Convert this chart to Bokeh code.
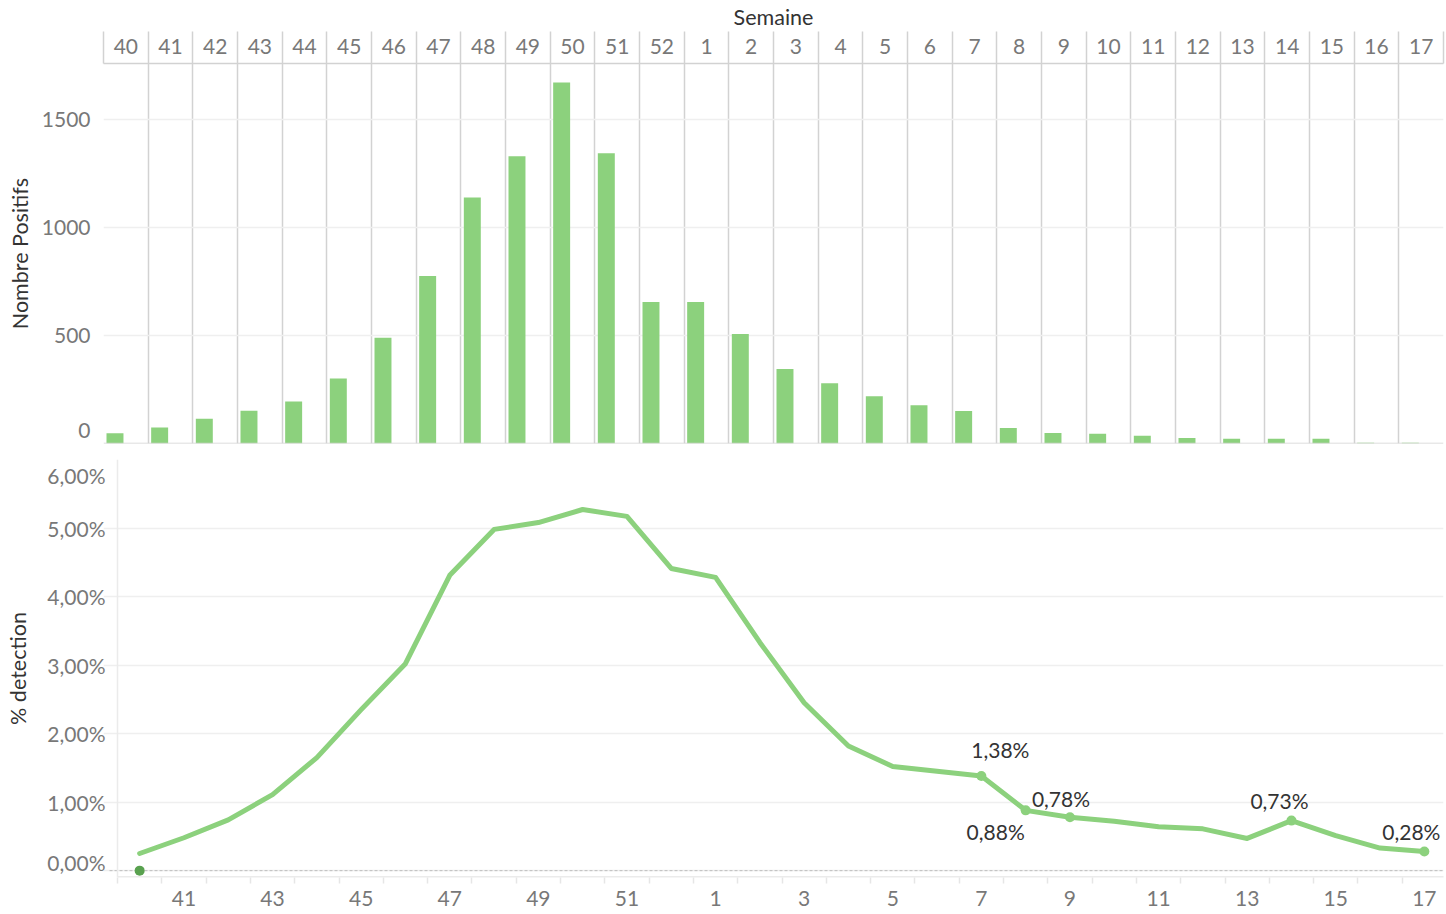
from bokeh.plotting import figure
from bokeh.layouts import column
from bokeh.models import Range1d, FixedTicker, Span, ColumnDataSource
from bokeh.transform import dodge
from bokeh.embed import file_html
from bokeh.resources import INLINE
from bokeh.core.properties import value

# ---------------- data ----------------
weeks = ["40", "41", "42", "43", "44", "45", "46", "47", "48", "49", "50", "51", "52",
         "1", "2", "3", "4", "5", "6", "7", "8", "9", "10", "11", "12", "13", "14",
         "15", "16", "17"]
positifs = [47, 74, 115, 152, 194, 300, 489, 775, 1138, 1328, 1669, 1342, 654,
            654, 506, 344, 279, 219, 177, 150, 72, 49, 45, 36, 26, 22, 22,
            22, 3, 3]
detection = [0.25, 0.48, 0.74, 1.11, 1.65, 2.35, 3.02, 4.31, 4.98, 5.08, 5.27, 5.17, 4.41,
             4.28, 3.33, 2.45, 1.82, 1.52, 1.45, 1.38, 0.88, 0.78, 0.72, 0.64, 0.61, 0.47, 0.73,
             0.51, 0.33, 0.28]
labelled_weeks = ["7", "8", "9", "14", "17"]
dark_point_weeks = ["40"]
dark_point_values = [0.0]
top_ticks = [0, 500, 1000, 1500]
bottom_ticks = [0, 1, 2, 3, 4, 5, 6]

# ---------------- style ----------------
FONT = "Lato"
GREEN = "#8cd17d"
DARK_GREEN = "#59a14f"
TICK_GREY = "#787878"
DIV_GREY = "#d2d2d2"
GRID = "#efefef"
BORDER = "#ebebeb"
TITLE = "#333333"
TICK_FS = "21px"
TITLE_FS = "21.5px"
LABEL_FS = "21px"
LABEL_OFFSETS = {"7": (19, -27), "8": (-30, 21), "9": (-9, -19), "14": (-12, -20), "17": (-13, -20)}
# edge tick labels are nudged inward (as in the original dashboard)
TOP_LABEL_POS = {0: 60}
BOTTOM_LABEL_POS = {0: 0.12, 6: 5.76}
# bottom panel's plot area starts a little right of the top panel's one
BOT_X_START, BOT_X_END = -0.316, 29.932
ZERO_LINE_START = -0.18

n = len(weeks)
centers = [i + 0.5 for i in range(n)]
bounds = list(range(n + 1))


def pct(v):
    return f"{v:.2f}".replace(".", ",") + "%"


# ---------------- top chart: bars ----------------
top = figure(width=1446, height=451, output_backend="svg", toolbar_location=None,
             x_range=Range1d(0, n), y_range=Range1d(0, 1757),
             x_axis_location="above",
             min_border_left=103, min_border_right=3, min_border_top=62, min_border_bottom=8)
top.outline_line_color = None
top.background_fill_color = "white"
top.border_fill_color = "white"

src_bars = ColumnDataSource(dict(x=centers, top=positifs, week=weeks))
top.vbar(x=dodge("x", -0.243), top="top", width=0.38, bottom=0, source=src_bars,
         fill_color=GREEN, line_color=None)

xa = top.xaxis[0]
xa.ticker = FixedTicker(ticks=centers, minor_ticks=bounds)
xa.major_label_overrides = {c: w for c, w in zip(centers, weeks)}
xa.major_tick_out = 0
xa.major_tick_in = 0
xa.minor_tick_out = 32
xa.minor_tick_in = 0
xa.minor_tick_line_color = DIV_GREY
xa.minor_tick_line_width = 1.5
xa.axis_line_color = DIV_GREY
xa.axis_line_width = 1.5
xa.major_label_text_font = FONT
xa.major_label_text_font_size = TICK_FS
xa.major_label_text_color = TICK_GREY
xa.major_label_standoff = -22
xa.axis_label = "Semaine"
xa.axis_label_text_font = FONT
xa.axis_label_text_font_size = TITLE_FS
xa.axis_label_text_font_style = "normal"
xa.axis_label_text_color = TITLE
xa.axis_label_standoff = 6

ya = top.yaxis[0]
ya_pos = [TOP_LABEL_POS.get(t, t) for t in top_ticks]
ya.ticker = FixedTicker(ticks=ya_pos)
ya.major_label_overrides = {p: str(t) for p, t in zip(ya_pos, top_ticks)}
ya.major_tick_out = 0
ya.major_tick_in = 0
ya.minor_tick_line_color = None
ya.axis_line_color = None
ya.major_label_text_font = FONT
ya.major_label_text_font_size = TICK_FS
ya.major_label_text_color = TICK_GREY
ya.major_label_standoff = 13
ya.axis_label = "Nombre Positifs"
ya.axis_label_text_font = FONT
ya.axis_label_text_font_size = TITLE_FS
ya.axis_label_text_font_style = "normal"
ya.axis_label_text_color = TITLE
ya.axis_label_standoff = 6

top.ygrid.ticker = FixedTicker(ticks=top_ticks)
top.ygrid.grid_line_color = GRID
top.ygrid.grid_line_width = 1.5
top.xgrid.ticker = FixedTicker(ticks=bounds)
top.xgrid.grid_line_color = DIV_GREY
top.xgrid.grid_line_width = 1.5
top.add_layout(Span(location=0, dimension="width", line_color=DIV_GREY, line_width=1.5))

# ---------------- bottom chart: % detection ----------------
Y0, Y1 = -0.1, 6.0
bot = figure(width=1446, height=461, output_backend="svg", toolbar_location=None,
             x_range=Range1d(BOT_X_START, BOT_X_END), y_range=Range1d(Y0, Y1),
             min_border_left=103, min_border_right=3, min_border_top=8, min_border_bottom=35)
bot.outline_line_color = None
bot.background_fill_color = "white"
bot.border_fill_color = "white"

bot.ygrid.ticker = FixedTicker(ticks=bottom_ticks)
bot.ygrid.grid_line_color = GRID
bot.ygrid.grid_line_width = 1.5
bot.xgrid.grid_line_color = None
# panel borders (left and bottom) of the line chart
bot.add_layout(Span(location=0, dimension="height", line_color=BORDER, line_width=1.5))
bot.segment(x0=[0], y0=[Y0], x1=[n], y1=[Y0], line_color=BORDER, line_width=3)
# dashed zero reference line
bot.segment(x0=[ZERO_LINE_START], y0=[0], x1=[BOT_X_END], y1=[0], line_color="#bdbdbd",
            line_width=1, line_dash="3 2")

bot.line(x=centers, y=detection, line_color=GREEN, line_width=5,
         line_join="round", line_cap="round")

idx = [weeks.index(w) for w in labelled_weeks]
lab_src = ColumnDataSource(dict(
    x=[centers[i] for i in idx],
    y=[detection[i] for i in idx],
    text=[pct(detection[i]) for i in idx],
    xo=[LABEL_OFFSETS[w][0] for w in labelled_weeks],
    yo=[LABEL_OFFSETS[w][1] for w in labelled_weeks],
))
bot.scatter(x="x", y="y", source=lab_src, size=10, fill_color=GREEN, line_color=None)
bot.text(x="x", y="y", text="text", x_offset="xo", y_offset="yo", source=lab_src,
         text_font=value(FONT), text_font_size=LABEL_FS, text_color=TITLE,
         text_align="center", text_baseline="middle")

bot.scatter(x=[centers[weeks.index(w)] for w in dark_point_weeks], y=dark_point_values,
            size=10, fill_color=DARK_GREEN, line_color=None)

bx = bot.xaxis[0]
odd = list(range(1, n, 2))
bx.ticker = FixedTicker(ticks=[centers[i] for i in odd], minor_ticks=bounds)
bx.major_label_overrides = {centers[i]: weeks[i] for i in odd}
bx.major_tick_out = 0
bx.major_tick_in = 0
bx.minor_tick_out = 6
bx.minor_tick_in = 0
bx.minor_tick_line_color = "#e6e6e6"
bx.minor_tick_line_width = 1.5
bx.axis_line_color = None
bx.major_label_text_font = FONT
bx.major_label_text_font_size = TICK_FS
bx.major_label_text_color = TICK_GREY
bx.major_label_standoff = 7

by = bot.yaxis[0]
by_pos = [BOTTOM_LABEL_POS.get(t, t) for t in bottom_ticks]
by.ticker = FixedTicker(ticks=by_pos)
by.major_label_overrides = {p: pct(t) for p, t in zip(by_pos, bottom_ticks)}
by.major_tick_out = 0
by.major_tick_in = 0
by.minor_tick_line_color = None
by.axis_line_color = None
by.major_label_text_font = FONT
by.major_label_text_font_size = TICK_FS
by.major_label_text_color = TICK_GREY
by.major_label_standoff = -2
by.axis_label = "% detection"
by.axis_label_text_font = FONT
by.axis_label_text_font_size = TITLE_FS
by.axis_label_text_font_style = "normal"
by.axis_label_text_color = TITLE
by.axis_label_standoff = 13

layout = column(top, bot)
open("out.html", "w").write(file_html(layout, INLINE))
